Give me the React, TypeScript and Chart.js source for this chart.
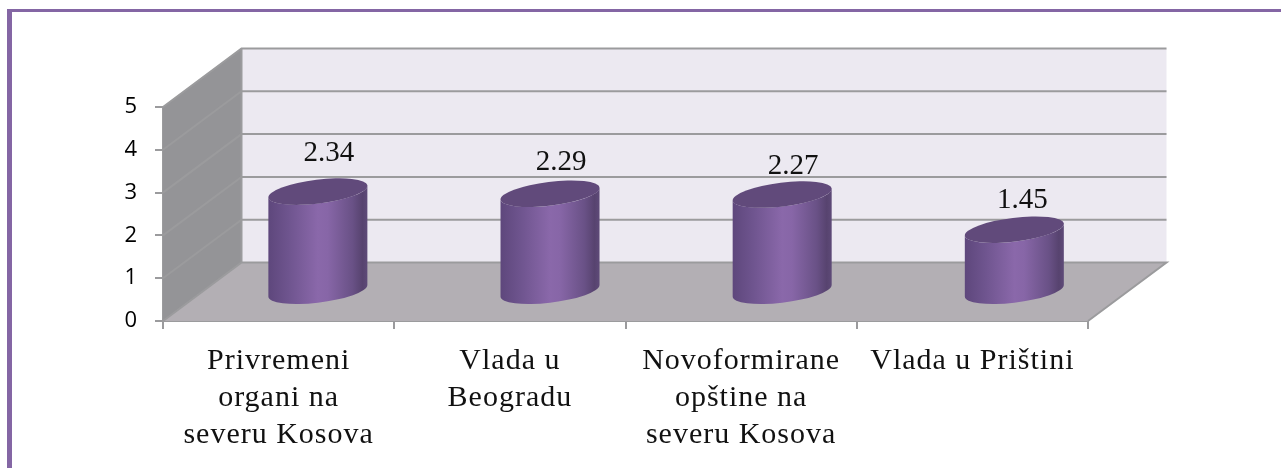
import React, { useEffect, useRef } from "react";
import { Chart, BarController, BarElement, CategoryScale, LinearScale } from "chart.js";

const categories = [
  ["Privremeni", "organi na", "severu Kosova"],
  ["Vlada u", "Beogradu"],
  ["Novoformirane", "opštine na", "severu Kosova"],
  ["Vlada u Prištini"],
];
const seriesValues = [2.34, 2.29, 2.27, 1.45];
const valueTicks = [0, 1, 2, 3, 4, 5];
const valueLabels = ["2.34", "2.29", "2.27", "1.45"];

const DEPTH_X = 78.5;
const DEPTH_Y = -58.5;
const LABEL_LIFT = [38, 31, 28, 29];
const LABEL_SHIFT = [11, 11, 11, 8];
const BAR_DRIFT = 0.9;
const ELLIPSE_A_RATIO = 0.503;
const ELLIPSE_B_RATIO = 0.12;
const TILT = (-7 * Math.PI) / 180;
const GRID = "#9b9b9d";
const SERIF = '"Liberation Serif", serif';

class CylinderController extends BarController {
  static id = "cylinder";
  static defaults = BarController.defaults;
  static overrides = BarController.overrides;

  draw() {
    const ctx = this.chart.ctx;
    const els = this._cachedMeta.data;
    ctx.save();
    els.forEach((el, i) => {
      const { x, y, base, width } = el.getProps(["x", "y", "base", "width"], true);
      const cx = x + DEPTH_X / 2 + i * BAR_DRIFT;
      const ty = y + DEPTH_Y / 2;
      const by = base + DEPTH_Y / 2;
      const a = width * ELLIPSE_A_RATIO;
      const b = width * ELLIPSE_B_RATIO;
      const t0 = Math.atan((-b / a) * Math.tan(TILT));
      const ex = a * Math.cos(t0) * Math.cos(TILT) - b * Math.sin(t0) * Math.sin(TILT);
      const ey = a * Math.cos(t0) * Math.sin(TILT) + b * Math.sin(t0) * Math.cos(TILT);

      const g = ctx.createLinearGradient(cx - ex, 0, cx + ex, 0);
      g.addColorStop(0, "#5e477c");
      g.addColorStop(0.2, "#6e548e");
      g.addColorStop(0.5, "#8a68aa");
      g.addColorStop(0.6, "#8766a7");
      g.addColorStop(0.85, "#695186");
      g.addColorStop(0.95, "#57436f");
      g.addColorStop(1, "#5e4a78");

      ctx.beginPath();
      ctx.moveTo(cx - ex, ty - ey);
      ctx.lineTo(cx - ex, by - ey);
      ctx.ellipse(cx, by, a, b, TILT, t0 + Math.PI, t0, true);
      ctx.lineTo(cx + ex, ty + ey);
      ctx.ellipse(cx, ty, a, b, TILT, t0, t0 + Math.PI, false);
      ctx.closePath();
      ctx.fillStyle = g;
      ctx.fill();

      ctx.beginPath();
      ctx.ellipse(cx, ty, a, b, TILT, 0, Math.PI * 2);
      ctx.fillStyle = "#614a7b";
      ctx.fill();

      ctx.fillStyle = "#111111";
      ctx.font = `29px ${SERIF}`;
      ctx.letterSpacing = "0px";
      ctx.textAlign = "center";
      ctx.textBaseline = "middle";
      ctx.fillText(valueLabels[i], cx + LABEL_SHIFT[i], ty - LABEL_LIFT[i]);
    });
    ctx.restore();
  }
}

const wallsPlugin = {
  id: "walls",
  beforeDraw(chart) {
    chart.ctx.letterSpacing = "1px";
  },
  beforeDatasetsDraw(chart) {
    const { ctx, chartArea: ca, scales } = chart;
    const y = scales.y;
    const y0 = y.getPixelForValue(0);
    const y5 = y.getPixelForValue(5);
    const poly = (pts, fill) => {
      ctx.beginPath();
      pts.forEach(([px, py], i) => (i ? ctx.lineTo(px, py) : ctx.moveTo(px, py)));
      ctx.closePath();
      ctx.fillStyle = fill;
      ctx.fill();
    };
    ctx.save();
    const bl = ca.left + DEPTH_X;
    const br = ca.right + DEPTH_X;
    poly([[bl, y5 + DEPTH_Y], [br, y5 + DEPTH_Y], [br, y0 + DEPTH_Y], [bl, y0 + DEPTH_Y]], "#ece9f1");
    poly([[ca.left, y5], [bl, y5 + DEPTH_Y], [bl, y0 + DEPTH_Y], [ca.left, y0]], "#949497");
    poly([[ca.left, y0], [bl, y0 + DEPTH_Y], [br, y0 + DEPTH_Y], [ca.right, y0]], "#b3afb4");
    ctx.strokeStyle = GRID;
    ctx.lineWidth = 2;
    valueTicks.forEach((v) => {
      const p = y.getPixelForValue(v);
      ctx.beginPath();
      ctx.moveTo(ca.left, p);
      ctx.lineTo(bl, p + DEPTH_Y);
      ctx.lineTo(br, p + DEPTH_Y);
      if (v === 0) ctx.lineTo(ca.right, p);
      ctx.stroke();
    });
    ctx.beginPath();
    ctx.moveTo(bl, y5 + DEPTH_Y);
    ctx.lineTo(bl, y0 + DEPTH_Y);
    ctx.stroke();
    ctx.restore();
  },
};

Chart.register(CylinderController, BarElement, CategoryScale, LinearScale);

export default function App() {
  const ref = useRef<HTMLCanvasElement>(null);
  useEffect(() => {
    document.body.style.margin = "0";
    document.body.style.background = "#ffffff";
    const chart = new Chart(ref.current, {
      type: "cylinder",
      data: {
        labels: categories,
        datasets: [{ data: seriesValues, backgroundColor: "#8064a2", barPercentage: 0.4286, categoryPercentage: 1 }],
      },
      plugins: [wallsPlugin],
      options: {
        responsive: false,
        animation: false,
        layout: { padding: { left: 0, top: 107, right: 193, bottom: 0 } },
        plugins: { legend: { display: false }, tooltip: { enabled: false } },
        scales: {
          x: {
            afterFit: (s) => { s.height = 147; },
            grid: { drawOnChartArea: false, drawTicks: true, tickLength: 8, color: GRID, tickColor: GRID, lineWidth: 2 },
            border: { color: GRID, width: 2 },
            ticks: {
              color: "#111111",
              autoSkip: false,
              maxRotation: 0,
              padding: 14,
              font: { family: SERIF, size: 30, lineHeight: 37 / 30 },
            },
          },
          y: {
            min: 0,
            max: 5,
            afterFit: (s) => { s.width = 163; },
            afterBuildTicks: (s) => { s.ticks = valueTicks.map((value) => ({ value })); },
            grid: { drawOnChartArea: false, drawTicks: true, tickLength: 8, color: GRID, tickColor: GRID, lineWidth: 2 },
            border: { color: GRID, width: 2 },
            ticks: { color: "#000000", padding: 17, font: { family: '"Open Sans"', size: 22 } },
          },
        },
      },
    });
    return () => chart.destroy();
  }, []);
  return (
    <div style={{ position: "relative", width: 1281, height: 468, overflow: "hidden", background: "#fff" }}>
      <div style={{ position: "absolute", left: 7, top: 9, right: 0, height: 3, background: "#8466a4" }} />
      <div style={{ position: "absolute", left: 7, top: 9, bottom: 0, width: 5, background: "#8466a4" }} />
      <canvas ref={ref} width={1281} height={468} style={{ position: "absolute", left: 0, top: 0, display: "block" }} />
    </div>
  );
}
